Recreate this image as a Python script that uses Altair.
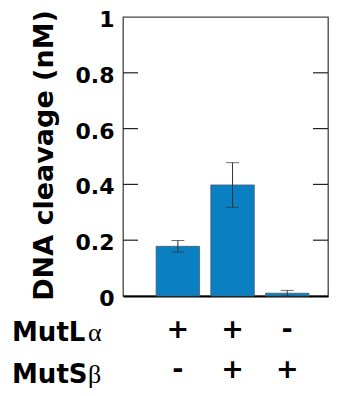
import altair as alt
import pandas as pd

conditions = ["MutLα only", "MutLα + MutSβ", "MutSβ only"]
cleavage = [0.178, 0.398, 0.010]
error = [0.021, 0.080, 0.010]
mutl_signs = ["+", "+", "-"]
muts_signs = ["-", "+", "+"]
row_names = ["MutL", "MutS"]
row_greek = ["α", "β"]
y_ticks = [0, 0.2, 0.4, 0.6, 0.8, 1]
inner_ticks = [0.2, 0.4, 0.6, 0.8]

df = pd.DataFrame({"cond": conditions, "value": cleavage, "err": error,
                   "mutl": mutl_signs, "muts": muts_signs})
df["lo"] = (df["value"] - df["err"]).clip(lower=0)
df["hi"] = df["value"] + df["err"]
tick_df = pd.DataFrame({"t": inner_ticks})

W, H = 205, 279
FONT = "DejaVu Sans"
TITLE = "DNA cleavage (nM)"
xscale = alt.Scale(domain=conditions, paddingInner=0.205, paddingOuter=0.4766, align=0.635)
yscale = alt.Scale(domain=[0, 1], nice=False)

y_axis = alt.Axis(values=y_ticks, format="~g", title=TITLE,
                  domain=False, ticks=False, tickSize=0, grid=False,
                  labelFont=FONT, labelFontWeight="bold", labelFontSize=22,
                  labelColor="black", labelPadding=9, labelOffset=2.5,
                  titleFont=FONT, titleFontWeight="bold", titleFontSize=27,
                  titleColor="black", titleAngle=270, titleAlign="center",
                  titleBaseline="alphabetic", titleX=-71, titleY=138)
x_axis = alt.Axis(labels=False, ticks=False, title=None,
                  domainColor="black", domainWidth=2)


def xe():
    return alt.X("cond:N", scale=xscale, sort=conditions, axis=x_axis)


def ye(field):
    return alt.Y(field, scale=yscale, axis=y_axis, title=TITLE)


base = alt.Chart(df)

bars = base.mark_bar(color="#0A7FC2", stroke="#4a6070", strokeWidth=0.8).encode(
    x=xe(), y=ye("value:Q"))

err_rule = base.mark_rule(color="#333", strokeWidth=1).encode(
    x=xe(), y=ye("lo:Q"), y2="hi:Q")
cap_lo = base.mark_tick(color="#333", size=13, thickness=1).encode(
    x=xe(), y=ye("lo:Q"))
cap_hi = base.mark_tick(color="#333", size=13, thickness=1).encode(
    x=xe(), y=ye("hi:Q"))

ticks_left = alt.Chart(tick_df).mark_rule(color="#222", strokeWidth=1.2).encode(
    x=alt.value(0), x2=alt.value(15), y=ye("t:Q"))
ticks_right = alt.Chart(tick_df).mark_rule(color="#222", strokeWidth=1.2).encode(
    x=alt.value(W - 15), x2=alt.value(W), y=ye("t:Q"))

sign_style = dict(font=FONT, fontWeight="bold", fontSize=27, baseline="middle",
                  align="center", color="black")
signs_l = base.mark_text(**sign_style).encode(x=xe(), y=alt.value(313), text="mutl:N")
signs_s = base.mark_text(**sign_style).encode(x=xe(), y=alt.value(353), text="muts:N")

row_layers = []
row_baselines = [324, 366]
for name, greek, yb in zip(row_names, row_greek, row_baselines):
    row_layers.append(
        alt.Chart(pd.DataFrame({"label": [name]})).mark_text(
            font=FONT, fontWeight="bold", fontSize=26, align="left",
            baseline="alphabetic", color="black").encode(
            text="label:N", x=alt.value(-111), y=alt.value(yb)))
    row_layers.append(
        alt.Chart(pd.DataFrame({"label": [greek]})).mark_text(
            font="Liberation Serif", fontSize=26, align="left",
            baseline="alphabetic", color="black").encode(
            text="label:N", x=alt.value(-35), y=alt.value(yb)))

chart = alt.layer(bars, err_rule, cap_lo, cap_hi, ticks_left, ticks_right,
                  signs_l, signs_s, *row_layers).properties(
    width=W, height=H,
    autosize=alt.AutoSizeParams(type="none"),
    padding={"left": 115, "top": 9, "right": 1, "bottom": 92},
).configure_view(stroke="#444", strokeWidth=1.3)

chart.save("out.html", embed_options={"renderer": "svg", "actions": False})
